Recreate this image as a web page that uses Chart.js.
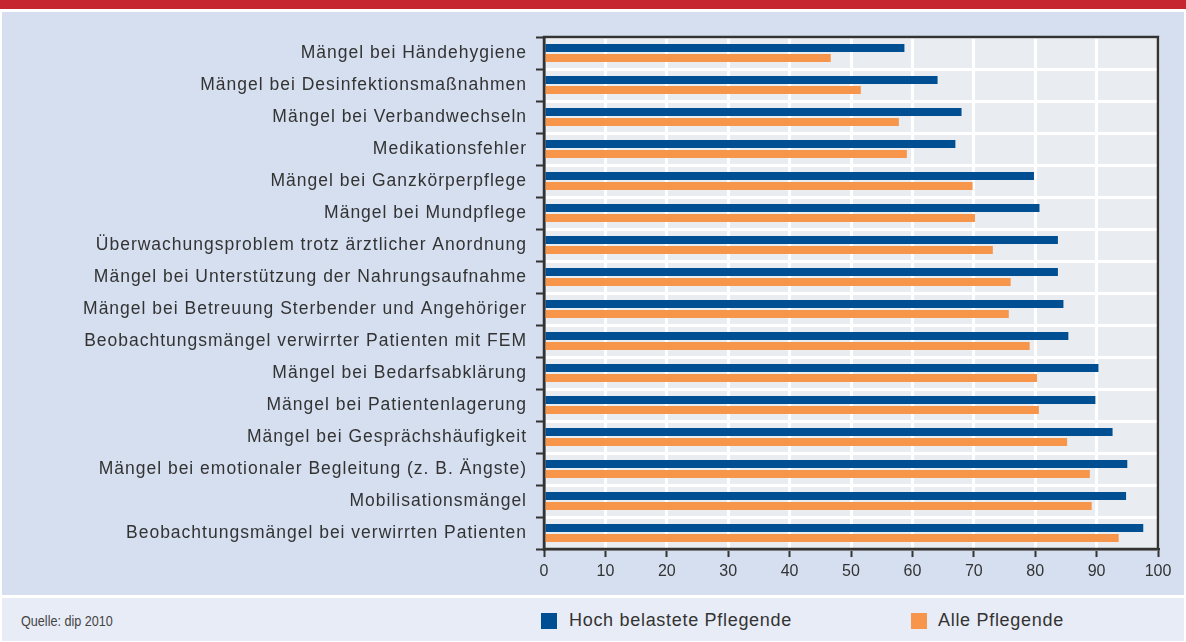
<!DOCTYPE html>
<html><head><meta charset="utf-8">
<script src="https://cdn.jsdelivr.net/npm/chart.js@4.4.1/dist/chart.umd.min.js"></script>
<style>
html,body{margin:0;padding:0;background:#fff;width:1186px;height:642px;overflow:hidden;font-family:"Liberation Sans",Arial,sans-serif;}
#red{position:absolute;left:0;top:0;width:1186px;height:9px;background:#c5262f;}
#panel{position:absolute;left:2px;top:12px;width:1182px;height:583px;background:#d5dff0;}
#foot{position:absolute;left:2px;top:598px;width:1182px;height:43px;background:#e8ecf6;}
#src{position:absolute;left:21px;top:613px;font-size:14.5px;line-height:17px;color:#444;transform:scaleX(0.87);transform-origin:0 0;white-space:nowrap;}
.lg{position:absolute;top:610px;font-size:18px;line-height:20px;color:#333;letter-spacing:0.7px;white-space:nowrap;}
.sw{position:absolute;top:613px;width:16px;height:16px;}
#c{position:absolute;left:0;top:0;}
</style></head><body>
<div id="red"></div><div id="panel"></div><div id="foot"></div>
<div id="src">Quelle: dip 2010</div>
<div class="sw" style="left:541px;background:#004f93"></div>
<div class="lg" id="lg0" style="left:569px"></div>
<div class="sw" style="left:911px;background:#f7964a"></div>
<div class="lg" id="lg1" style="left:938px"></div>
<canvas id="c" width="1186" height="595"></canvas>
<script>
const categories = [
 "Mängel bei Händehygiene",
 "Mängel bei Desinfektionsmaßnahmen",
 "Mängel bei Verbandwechseln",
 "Medikationsfehler",
 "Mängel bei Ganzkörperpflege",
 "Mängel bei Mundpflege",
 "Überwachungsproblem trotz ärztlicher Anordnung",
 "Mängel bei Unterstützung der Nahrungsaufnahme",
 "Mängel bei Betreuung Sterbender und Angehöriger",
 "Beobachtungsmängel verwirrter Patienten mit FEM",
 "Mängel bei Bedarfsabklärung",
 "Mängel bei Patientenlagerung",
 "Mängel bei Gesprächshäufigkeit",
 "Mängel bei emotionaler Begleitung (z. B. Ängste)",
 "Mobilisationsmängel",
 "Beobachtungsmängel bei verwirrten Patienten"
];
const hochBelastet = [58.7, 64.1, 68.0, 67.0, 79.8, 80.7, 83.7, 83.7, 84.6, 85.4, 90.3, 89.8, 92.6, 95.0, 94.8, 97.6];
const allePflegende = [46.7, 51.6, 57.8, 59.1, 69.8, 70.2, 73.1, 76.0, 75.7, 79.1, 80.3, 80.6, 85.2, 88.9, 89.2, 93.6];
const seriesNames = ["Hoch belastete Pflegende", "Alle Pflegende"];
const xTicks = [0,10,20,30,40,50,60,70,80,90,100];

document.getElementById('lg0').textContent = seriesNames[0];
document.getElementById('lg1').textContent = seriesNames[1];

const frame = {
  id:'frame',
  beforeDraw(chart){
    const a = chart.chartArea, ctx = chart.ctx;
    ctx.save(); ctx.fillStyle = '#e9edf1';
    ctx.fillRect(a.left, a.top, a.right-a.left, a.bottom-a.top);
    ctx.restore();
    const s = chart.scales.y;
    if (s && !s._lsPatched) {
      const orig = s.drawLabels.bind(s);
      s.drawLabels = function(ca){ const c = this.ctx; c.save(); c.letterSpacing = '1px'; orig(ca); c.restore(); };
      s._lsPatched = true;
    }
  },
  afterDraw(chart){
    const a = chart.chartArea, ctx = chart.ctx;
    ctx.save(); ctx.strokeStyle = '#333'; ctx.lineWidth = 2.5;
    ctx.strokeRect(a.left, a.top, a.right-a.left, a.bottom-a.top);
    ctx.restore();
  }
};

new Chart(document.getElementById('c'), {
  type:'bar',
  data:{
    labels: categories,
    datasets:[
      {label:seriesNames[0], data:hochBelastet, backgroundColor:'#004f93', categoryPercentage:0.625, barPercentage:0.8},
      {label:seriesNames[1], data:allePflegende, backgroundColor:'#f7964a', categoryPercentage:0.625, barPercentage:0.8}
    ]
  },
  options:{
    indexAxis:'y', responsive:false, animation:false,
    layout:{padding:{left:0, right:28, top:37, bottom:0}},
    plugins:{legend:{display:false}, tooltip:{enabled:false}},
    scales:{
      x:{min:0,max:100,
        afterBuildTicks(s){ s.ticks = xTicks.map(v=>({value:v})); },
        afterFit(s){ s.height = 46; },
        grid:{color:'#ffffff', lineWidth:3, tickColor:'#333', tickLength:8, tickWidth:2, drawTicks:true},
        border:{display:true, color:'#333', width:2.5},
        ticks:{color:'#333', font:{family:'"Liberation Sans", Arial', size:16}, padding:5, maxRotation:0}
      },
      y:{
        afterFit(s){ s.width = 544; },
        grid:{color:'#ffffff', lineWidth:3, tickColor:'#333', tickLength:8, tickWidth:2, offset:true},
        border:{display:true, color:'#333', width:2.5},
        ticks:{color:'#333', font:{family:'"Liberation Sans", Arial', size:17.5}, padding:9, autoSkip:false}
      }
    }
  },
  plugins:[frame]
});
</script>
</body></html>
